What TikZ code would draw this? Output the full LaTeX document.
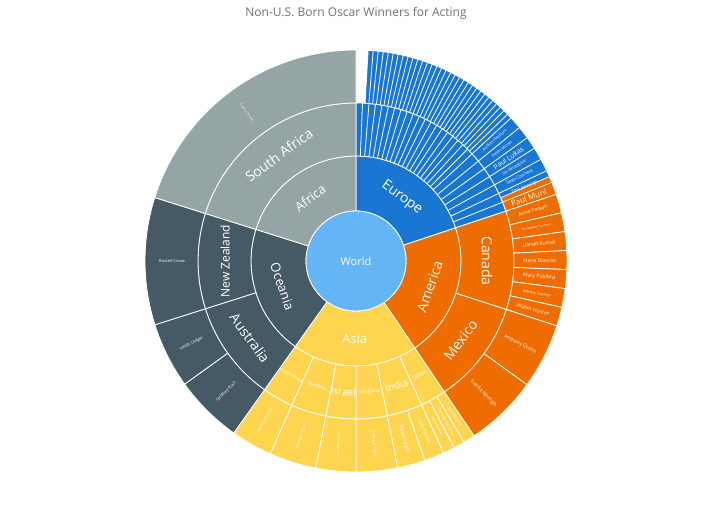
\documentclass[tikz,border=0pt]{standalone}
\usepackage{fontspec}
\setmainfont{Open Sans}
\usepackage{tikz}
\usetikzlibrary{positioning}

\definecolor{worldblue}{HTML}{64B5F6}
\definecolor{europeblue}{HTML}{1976D2}
\definecolor{americaorange}{HTML}{EF6C00}
\definecolor{asiayellow}{HTML}{FFD54F}
\definecolor{oceaniaslate}{HTML}{455A64}
\definecolor{africagray}{HTML}{95A5A6}
\definecolor{titlegray}{HTML}{6F7072}

\tikzset{
  sep/.style={draw=white,line width=0.8pt},
  lbl/.style={text=white,inner sep=0pt,font=\fontsize{#1}{#1}\selectfont},
}

% wedge: inner radius, outer radius, start, end (clockwise from top), colour
\newcommand\sbwedge[5]{%
  \filldraw[fill=#5,sep] ([shift={(90-#3:#1)}]C) arc[start angle=90-#3,end angle=90-#4,radius=#1]
    -- ([shift={(90-#4:#2)}]C) arc[start angle=90-#4,end angle=90-#3,radius=#2] -- cycle;}
% radial label: radius, angle, size, text
\newcommand\sbrad[4]{%
  \pgfmathsetmacro\th{90-#2}%
  \pgfmathsetmacro\th{\th<-180 ? \th+360 : \th}%
  \pgfmathsetmacro\rt{\th<-90 ? \th+180 : (\th>90 ? \th-180 : \th)}%
  \node[lbl=#3,rotate=\rt] at ([shift={(\th:#1)}]C) {#4};}
% tangential label
\newcommand\sbtan[4]{%
  \pgfmathsetmacro\th{90-#2}%
  \pgfmathsetmacro\th{\th<-180 ? \th+360 : \th}%
  \pgfmathsetmacro\tt{\th-90}%
  \pgfmathsetmacro\tt{\tt<-180 ? \tt+360 : \tt}%
  \pgfmathsetmacro\rt{\tt<-90 ? \tt+180 : (\tt>90 ? \tt-180 : \tt)}%
  \node[lbl=#3,rotate=\rt] at ([shift={(\th:#1)}]C) {#4};}

\begin{document}
\begin{tikzpicture}[x=1pt,y=1pt]
\useasboundingbox (0,0) rectangle (720,505);
\coordinate (C) at (356,244);

\node[text=titlegray,font=\fontsize{12}{12}\selectfont] (title) at (356,492) {Non-U.S. Born Oscar Winners for Acting};

%continents
\sbwedge{50}{105}{0}{71.6}{europeblue}
\sbwedge{50}{105}{71.6}{146}{americaorange}
\sbwedge{50}{105}{146}{215.4}{asiayellow}
\sbwedge{50}{105}{215.4}{287.5}{oceaniaslate}
\sbwedge{50}{105}{287.5}{360}{africagray}

%countries
\sbwedge{105}{158}{0}{71.6}{europeblue}
\sbwedge{105}{158}{71.6}{107.9}{americaorange}
\sbwedge{105}{158}{107.9}{146}{americaorange}
\sbwedge{105}{158}{146}{155.5}{asiayellow}
\sbwedge{105}{158}{155.5}{168.6}{asiayellow}
\sbwedge{105}{158}{168.6}{180}{asiayellow}
\sbwedge{105}{158}{180}{191}{asiayellow}
\sbwedge{105}{158}{191}{204}{asiayellow}
\sbwedge{105}{158}{204}{215.4}{asiayellow}
\sbwedge{105}{158}{215.4}{252.4}{oceaniaslate}
\sbwedge{105}{158}{252.4}{287.5}{oceaniaslate}
\sbwedge{105}{158}{287.5}{360}{africagray}

%winners
\sbwedge{158}{211}{3.3}{71.6}{europeblue}
\foreach \a in {71.6,76.79,81.97,87.16,92.34,97.53,102.71,107.9}
  \sbwedge{158}{211}{\a}{\a+5.186}{americaorange};
\sbwedge{158}{211}{107.9}{125.9}{americaorange}
\sbwedge{158}{211}{125.9}{146}{americaorange}
\foreach \a/\b in {146/149.2,149.2/152.3,152.3/155.5,155.5/161,161/168.6,168.6/180,180/191,191/204,204/215.4}
  \sbwedge{158}{211}{\a}{\b}{asiayellow};
\sbwedge{158}{211}{215.4}{234.3}{oceaniaslate}
\sbwedge{158}{211}{234.3}{252.4}{oceaniaslate}
\sbwedge{158}{211}{252.4}{287.5}{oceaniaslate}
\sbwedge{158}{211}{287.5}{360}{africagray}

%europe splits
\foreach \i in {1,...,19}
  \draw[sep] ([shift={(90-2.365*\i:105)}]C) -- ([shift={(90-2.365*\i:158)}]C);
\foreach \i in {1,...,31}
  \draw[sep] ([shift={(90-3.3-1.375*\i:158)}]C) -- ([shift={(90-3.3-1.375*\i:211)}]C);
\foreach \a in {47.3,50.77,54.24,57.71,61.19,64.66,68.13}
  \draw[sep] ([shift={(90-\a:105)}]C) -- ([shift={(90-\a:211)}]C);

\filldraw[fill=worldblue,sep] (C) circle[radius=50];
\node[lbl=11] (world) at (C) {World};

\sbtan{78}{36}{14}{Europe}
\sbtan{78}{109}{14}{America}
\sbtan{78}{181}{13}{Asia}
\sbtan{78}{251}{13}{Oceania}
\sbtan{78}{324}{13}{Africa}

\sbtan{131}{90}{14}{Canada}
\sbtan{131}{127}{14}{Mexico}
\sbtan{131}{150.7}{6}{Japan}
\sbtan{131}{162}{10}{India}
\sbtan{131}{174.3}{4.5}{Cambodia}
\sbtan{131}{185.5}{10}{Israel}
\sbtan{131}{197.5}{4.5}{Malaysia}
\sbtan{131}{209.7}{4.5}{South Korea}
\sbtan{131}{234}{14}{Australia}
\sbtan{131}{270}{12}{New Zealand}
\sbtan{131}{324}{14}{South Africa}

\sbrad{184}{69.9}{8}{Paul Muni}
\sbrad{184}{66.4}{4.5}{Emil Jannings}
\sbrad{184}{62.9}{4.5}{Sean Connery}
\sbrad{184}{59.5}{4}{Jim Broadbent}
\sbrad{184}{56}{7}{Paul Lukas}
\sbrad{184}{52.5}{4}{Helen Mirren}
\sbrad{184}{49}{4}{Audrey Hepburn}
\sbrad{184}{74.2}{5}{Anna Paquin}
\sbrad{184}{79.4}{3}{Christopher Plummer}
\sbrad{184}{84.6}{5}{Harold Russell}
\sbrad{184}{89.8}{5}{Marie Dressler}
\sbrad{184}{94.9}{5}{Mary Pickford}
\sbrad{184}{100.1}{4}{Norma Shearer}
\sbrad{184}{105.3}{5}{Walter Huston}
\sbrad{184}{116.9}{5}{Anthony Quinn}
\sbrad{184}{136}{5}{Lupita Nyong'o}
\sbrad{184}{147.6}{3.5}{Joan Fontaine}
\sbrad{184}{150.7}{3.5}{Olivia de Havilland}
\sbrad{184}{153.9}{3}{Miyoshi Umeki}
\sbrad{184}{158.2}{4.5}{Julie Christie}
\sbrad{184}{164.8}{5}{Vivien Leigh}
\sbrad{184}{174.3}{4}{Haing S. Ngor}
\sbrad{184}{185.5}{3}{Natalie Portman}
\sbrad{184}{197.5}{4}{Michelle Yeoh}
\sbrad{184}{209.7}{4}{Youn Yuh-jung}
\sbrad{184}{224.8}{4}{Geoffrey Rush}
\sbrad{184}{243.3}{4}{Heath Ledger}
\sbrad{184}{270}{4}{Russell Crowe}
\sbrad{184}{323.7}{3}{Charlize Theron}
\end{tikzpicture}
\end{document}
